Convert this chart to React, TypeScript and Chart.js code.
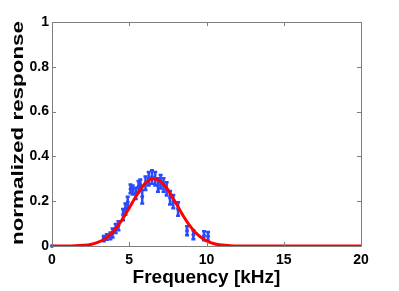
import React, { useEffect, useRef } from "react";
import { Chart, registerables } from "chart.js";

Chart.register(...registerables);

// Measured points (frequency in kHz, normalized response, error half-length)
const pointFreq = [0, 3.35, 3.55, 3.78, 3.92, 4.12, 4.3, 4.6, 4.75, 4.9, 5.08, 5.22, 5.42, 5.6, 5.72, 5.84, 6.05, 6.26, 6.47, 6.68, 6.86, 7.03, 7.22, 7.42, 7.64, 7.85, 8.16, 8.74, 9.15, 9.84, 10.1];
const pointValue = [0, 0.033, 0.04, 0.045, 0.058, 0.078, 0.09, 0.14, 0.165, 0.195, 0.255, 0.25, 0.235, 0.265, 0.272, 0.22, 0.28, 0.3, 0.308, 0.3, 0.272, 0.287, 0.272, 0.255, 0.215, 0.198, 0.165, 0.068, 0.05, 0.046, 0.043];
const pointErr = [0, 0.012, 0.012, 0.015, 0.02, 0.02, 0.02, 0.025, 0.025, 0.025, 0.02, 0.02, 0.025, 0.025, 0.025, 0.03, 0.03, 0.03, 0.03, 0.03, 0.03, 0.03, 0.03, 0.03, 0.03, 0.03, 0.03, 0.02, 0.02, 0.02, 0.02];

// Fitted curve
const fitFreq = [0, 0.5, 1, 1.5, 2, 2.5, 3, 3.5, 4, 4.5, 5, 5.5, 6, 6.5, 7, 7.5, 8, 8.5, 9, 9.5, 10, 10.5, 11, 11.5, 12, 13, 14, 15, 16, 17, 18, 19, 20];
const fitValue = [0, 0, 0, 0.001, 0.003, 0.007, 0.017, 0.035, 0.067, 0.113, 0.17, 0.229, 0.277, 0.3, 0.289, 0.251, 0.194, 0.134, 0.083, 0.046, 0.023, 0.01, 0.004, 0.0014, 0, 0, 0, 0, 0, 0, 0, 0, 0];

const xTicks = [0, 5, 10, 15, 20];
const yTicks = [0, 0.2, 0.4, 0.6, 0.8, 1];

const xTitle = "Frequency [kHz]";
const yTitle = "normalized response";

const FONT = "'Liberation Sans', Arial, Helvetica, sans-serif";
const BLUE = "rgb(40,75,255)";
const AXIS_GRAY = "#7f7f7f";

export default function App() {
  const ref = useRef<HTMLCanvasElement | null>(null);

  useEffect(() => {
    if (!ref.current) return;

    const errorBars = {
      id: "errorBars",
      beforeDatasetsDraw(chart: any) {
        const { ctx, scales } = chart;
        const xs = scales.x;
        const ys = scales.y;
        ctx.save();
        ctx.strokeStyle = BLUE;
        ctx.lineWidth = 2.5;
        for (let i = 0; i < pointFreq.length; i++) {
          if (!pointErr[i]) continue;
          const px = xs.getPixelForValue(pointFreq[i]);
          const y1 = ys.getPixelForValue(pointValue[i] - pointErr[i]);
          const y2 = ys.getPixelForValue(pointValue[i] + pointErr[i]);
          ctx.beginPath();
          ctx.moveTo(px, y1);
          ctx.lineTo(px, y2);
          ctx.moveTo(px - 2, y1);
          ctx.lineTo(px + 2, y1);
          ctx.moveTo(px - 2, y2);
          ctx.lineTo(px + 2, y2);
          ctx.stroke();
        }
        ctx.restore();
      },
    };

    const frame = {
      id: "frame",
      afterDatasetsDraw(chart: any) {
        const { ctx, chartArea, scales } = chart;
        const { left, right, top, bottom } = chartArea;
        ctx.save();
        ctx.strokeStyle = AXIS_GRAY;
        ctx.lineWidth = 1;
        ctx.beginPath();
        ctx.rect(Math.round(left) + 0.5, Math.round(top) + 0.5, Math.round(right - left), Math.round(bottom - top));
        const tl = 4;
        for (const v of xTicks) {
          const px = Math.round(scales.x.getPixelForValue(v)) + 0.5;
          ctx.moveTo(px, bottom);
          ctx.lineTo(px, bottom - tl);
          ctx.moveTo(px, top);
          ctx.lineTo(px, top + tl);
        }
        for (const v of yTicks) {
          const py = Math.round(scales.y.getPixelForValue(v)) + 0.5;
          ctx.moveTo(left, py);
          ctx.lineTo(left + tl, py);
          ctx.moveTo(right, py);
          ctx.lineTo(right - tl, py);
        }
        ctx.stroke();
        ctx.restore();
      },
      afterDraw(chart: any) {
        const { ctx } = chart;
        ctx.save();
        ctx.translate(18.5, 133);
        ctx.rotate(-Math.PI / 2);
        ctx.scale(1.4, 1);
        ctx.fillStyle = "#000";
        ctx.font = `bold 16px ${FONT}`;
        ctx.textAlign = "center";
        ctx.textBaseline = "middle";
        ctx.fillText(yTitle, 0, 0);
        ctx.restore();
      },
    };

    const chart = new Chart(ref.current, {
      type: "scatter",
      data: {
        datasets: [
          {
            type: "line",
            label: "fit",
            data: fitFreq.map((x, i) => ({ x, y: fitValue[i] })),
            borderColor: "#ff0000",
            borderWidth: 3,
            pointRadius: 0,
            cubicInterpolationMode: "monotone",
            fill: false,
            clip: 0,
          } as any,
          {
            label: "data",
            data: pointFreq.map((x, i) => ({ x, y: pointValue[i] })),
            backgroundColor: BLUE,
            borderColor: BLUE,
            pointRadius: 2,
            borderWidth: 0,
            clip: false,
          } as any,
        ],
      },
      options: {
        responsive: false,
        animation: false,
        events: [],
        layout: { padding: { top: 22, right: 38, left: 0, bottom: 0 } },
        plugins: {
          legend: { display: false },
          tooltip: { enabled: false },
          title: { display: false },
        },
        scales: {
          x: {
            type: "linear",
            min: 0,
            max: 20,
            grid: { display: false, drawTicks: false },
            border: { display: false },
            afterBuildTicks: (s: any) => {
              s.ticks = xTicks.map((v) => ({ value: v }));
            },
            afterFit: (s: any) => {
              s.height = 45;
            },
            ticks: {
              padding: 6,
              maxRotation: 0,
              color: "#000",
              font: { family: FONT, size: 14, weight: "bold" },
            },
            title: {
              display: true,
              text: xTitle,
              color: "#000",
              padding: { top: 0, bottom: 2 },
              font: { family: FONT, size: 19, weight: "bold" },
            },
          },
          y: {
            type: "linear",
            min: 0,
            max: 1,
            grid: { display: false, drawTicks: false },
            border: { display: false },
            afterBuildTicks: (s: any) => {
              s.ticks = yTicks.map((v) => ({ value: v }));
            },
            afterFit: (s: any) => {
              s.width = 52;
            },
            ticks: {
              padding: 3,
              color: "#000",
              font: { family: FONT, size: 14, weight: "bold" },
              callback: (v: any) => String(Math.round(Number(v) * 10) / 10),
            },
          },
        },
      } as any,
      plugins: [errorBars, frame],
    });

    return () => chart.destroy();
  }, []);

  return (
    <div style={{ position: "absolute", left: 0, top: 0, width: 399, height: 291, background: "#fff" }}>
      <canvas ref={ref} width={399} height={291} style={{ display: "block" }} />
    </div>
  );
}
